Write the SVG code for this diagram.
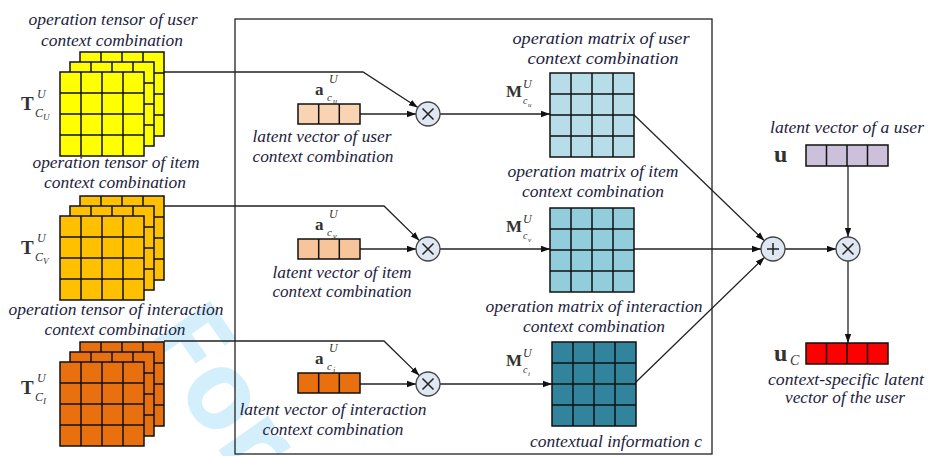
<svg xmlns="http://www.w3.org/2000/svg" xmlns:xlink="http://www.w3.org/1999/xlink" width="928" height="456" viewBox="0 0 928 456">
<style>
.lbl{font-family:"Liberation Serif",serif;font-style:italic;font-size:16px;fill:#1c1c3c;text-anchor:middle}
.math{font-family:"Liberation Serif",serif;fill:#333}
.b{font-weight:bold}
.it{font-style:italic}
.cell{stroke:#111;stroke-width:1.5}
.conn{fill:none;stroke:#222;stroke-width:1.3}
.op{fill:#dfe8f2;stroke:#444;stroke-width:1.3}
.opx{stroke:#222;stroke-width:1.5;fill:none}
</style>
<defs>
<marker id="ah" viewBox="0 0 10 10" refX="10" refY="5" markerWidth="9" markerHeight="9" markerUnits="userSpaceOnUse" orient="auto">
<path d="M0,1.5 L10,5 L0,8.5 z" fill="#111"/>
</marker>
<g id="grid">
<rect x="0" y="0" width="84" height="84" class="cell"/>
<path d="M21 0V84M42 0V84M63 0V84M0 21H84M0 42H84M0 63H84" class="cell" fill="none"/>
</g>
<g id="vec3">
<rect x="0" y="0" width="62" height="20" class="cell"/>
<path d="M20.7 0V20M41.3 0V20" class="cell" fill="none"/>
</g>
<g id="vec4">
<rect x="0" y="0" width="82" height="21" class="cell"/>
<path d="M20.5 0V21M41 0V21M61.5 0V21" class="cell" fill="none"/>
</g>
<g id="times">
<circle cx="0" cy="0" r="12" class="op"/>
<path d="M-5.5,-5.5L5.5,5.5M5.5,-5.5L-5.5,5.5" class="opx"/>
</g>
</defs>

<rect x="0" y="0" width="928" height="456" fill="#fff"/>
<!-- watermark -->
<text x="140" y="338" transform="rotate(55 140 338)" font-family="Open Sans,sans-serif" font-weight="bold" font-size="110" fill="#d4effc">For</text>

<rect id="frame" x="235" y="19" width="477" height="435" fill="none" stroke="#222" stroke-width="1.3"/>

<g id="connectors">
<path class="conn" d="M164,72 H363 L417.9,107.5" marker-end="url(#ah)"/>
<path class="conn" d="M164,206 H384 L419.4,240.6" marker-end="url(#ah)"/>
<path class="conn" d="M164,341 H384 L419.4,375.6" marker-end="url(#ah)"/>
<path class="conn" d="M360,114 H416" marker-end="url(#ah)"/>
<path class="conn" d="M360,249 H416" marker-end="url(#ah)"/>
<path class="conn" d="M360,384 H416" marker-end="url(#ah)"/>
<path class="conn" d="M440,114 H550" marker-end="url(#ah)"/>
<path class="conn" d="M440,249 H550" marker-end="url(#ah)"/>
<path class="conn" d="M440,384 H552" marker-end="url(#ah)"/>
<path class="conn" d="M633,114 L764.4,240.7" marker-end="url(#ah)"/>
<path class="conn" d="M633,249 H761" marker-end="url(#ah)"/>
<path class="conn" d="M635,383 L764.4,257.4" marker-end="url(#ah)"/>
<path class="conn" d="M785,249 H836" marker-end="url(#ah)"/>
<path class="conn" d="M848,166 V237" marker-end="url(#ah)"/>
<path class="conn" d="M848,261 V343" marker-end="url(#ah)"/>
</g>

<g id="tensor-user">
<use xlink:href="#grid" x="80" y="52" fill="#ffff00"/>
<use xlink:href="#grid" x="70" y="62" fill="#ffff00"/>
<use xlink:href="#grid" x="60" y="72" fill="#ffff00"/>
<text class="lbl" x="113" y="25" textLength="169" lengthAdjust="spacingAndGlyphs">operation tensor of user</text>
<text class="lbl" x="112" y="46" textLength="142" lengthAdjust="spacingAndGlyphs">context combination</text>
<text class="math b" x="21" y="110" font-size="19">T</text>
<text class="math it" x="37" y="98" font-size="12">U</text>
<text class="math it" x="35" y="117" font-size="12">C</text>
<text class="math it" x="43" y="120" font-size="9">U</text>
</g>

<g id="tensor-item">
<use xlink:href="#grid" x="80" y="196" fill="#ffc000"/>
<use xlink:href="#grid" x="70" y="206" fill="#ffc000"/>
<use xlink:href="#grid" x="60" y="216" fill="#ffc000"/>
<text class="lbl" x="116" y="168" textLength="167" lengthAdjust="spacingAndGlyphs">operation tensor of item</text>
<text class="lbl" x="115" y="188" textLength="142" lengthAdjust="spacingAndGlyphs">context combination</text>
<text class="math b" x="21" y="254" font-size="19">T</text>
<text class="math it" x="37" y="242" font-size="12">U</text>
<text class="math it" x="35" y="261" font-size="12">C</text>
<text class="math it" x="43" y="264" font-size="9">V</text>
</g>

<g id="tensor-interaction">
<use xlink:href="#grid" x="80" y="342" fill="#e8700f"/>
<use xlink:href="#grid" x="70" y="352" fill="#e8700f"/>
<use xlink:href="#grid" x="60" y="362" fill="#e8700f"/>
<text class="lbl" x="116" y="315" textLength="215" lengthAdjust="spacingAndGlyphs">operation tensor of interaction</text>
<text class="lbl" x="115" y="335" textLength="141" lengthAdjust="spacingAndGlyphs">context combination</text>
<text class="math b" x="21" y="394" font-size="19">T</text>
<text class="math it" x="37" y="382" font-size="12">U</text>
<text class="math it" x="35" y="401" font-size="12">C</text>
<text class="math it" x="43" y="404" font-size="9">I</text>
</g>

<g id="vector-user">
<use xlink:href="#vec3" x="298" y="104" fill="#fad4b2"/>
<text class="lbl" x="322" y="142" textLength="139" lengthAdjust="spacingAndGlyphs">latent vector of user</text>
<text class="lbl" x="323" y="162" textLength="141" lengthAdjust="spacingAndGlyphs">context combination</text>
<text class="math b" x="315" y="95" font-size="17">a</text>
<text class="math it" x="329" y="83" font-size="12">U</text>
<text class="math it" x="327" y="101" font-size="11">c</text>
<text class="math it" x="333" y="104" font-size="8">u</text>
</g>

<g id="vector-item">
<use xlink:href="#vec3" x="298" y="239" fill="#f8c59b"/>
<text class="lbl" x="342" y="278" textLength="139" lengthAdjust="spacingAndGlyphs">latent vector of item</text>
<text class="lbl" x="342" y="297" textLength="139" lengthAdjust="spacingAndGlyphs">context combination</text>
<text class="math b" x="315" y="230" font-size="17">a</text>
<text class="math it" x="329" y="218" font-size="12">U</text>
<text class="math it" x="327" y="236" font-size="11">c</text>
<text class="math it" x="333" y="239" font-size="8">v</text>
</g>

<g id="vector-interaction">
<use xlink:href="#vec3" x="298" y="373" fill="#e8700f"/>
<text class="lbl" x="333" y="415" textLength="187" lengthAdjust="spacingAndGlyphs">latent vector of interaction</text>
<text class="lbl" x="333" y="435" textLength="141" lengthAdjust="spacingAndGlyphs">context combination</text>
<text class="math b" x="315" y="364" font-size="17">a</text>
<text class="math it" x="329" y="352" font-size="12">U</text>
<text class="math it" x="327" y="370" font-size="11">c</text>
<text class="math it" x="333" y="373" font-size="8">i</text>
</g>

<g id="op-user"><use xlink:href="#times" x="428" y="114"/></g>
<g id="op-item"><use xlink:href="#times" x="428" y="249"/></g>
<g id="op-interaction"><use xlink:href="#times" x="428" y="384"/></g>

<g id="matrix-user">
<use xlink:href="#grid" x="550" y="73" fill="#b7dee8"/>
<text class="lbl" x="601" y="44" textLength="177" lengthAdjust="spacingAndGlyphs">operation matrix of user</text>
<text class="lbl" x="603" y="64" textLength="151" lengthAdjust="spacingAndGlyphs">context combination</text>
<text class="math b" x="506" y="97" font-size="17">M</text>
<text class="math it" x="523" y="88" font-size="12">U</text>
<text class="math it" x="523" y="104" font-size="10">c</text>
<text class="math it" x="528" y="107" font-size="7">u</text>
</g>

<g id="matrix-item">
<use xlink:href="#grid" x="550" y="208" fill="#92cddc"/>
<text class="lbl" x="593" y="177" textLength="171" lengthAdjust="spacingAndGlyphs">operation matrix of item</text>
<text class="lbl" x="593" y="197" textLength="142" lengthAdjust="spacingAndGlyphs">context combination</text>
<text class="math b" x="506" y="232" font-size="17">M</text>
<text class="math it" x="523" y="223" font-size="12">U</text>
<text class="math it" x="523" y="239" font-size="10">c</text>
<text class="math it" x="528" y="242" font-size="7">v</text>
</g>

<g id="matrix-interaction">
<use xlink:href="#grid" x="552" y="342" fill="#31849b"/>
<text class="lbl" x="594" y="312" textLength="217" lengthAdjust="spacingAndGlyphs">operation matrix of interaction</text>
<text class="lbl" x="594" y="332" textLength="142" lengthAdjust="spacingAndGlyphs">context combination</text>
<text class="math b" x="506" y="366" font-size="17">M</text>
<text class="math it" x="523" y="357" font-size="12">U</text>
<text class="math it" x="523" y="373" font-size="10">c</text>
<text class="math it" x="528" y="376" font-size="7">i</text>
</g>

<g id="context-info">
<text class="lbl" x="616" y="447" textLength="172" lengthAdjust="spacingAndGlyphs">contextual information c</text>
</g>

<g id="op-sum">
<circle cx="773" cy="249" r="12" class="op"/>
<path d="M773,243V255M767,249H779" class="opx"/>
</g>
<g id="op-final"><use xlink:href="#times" x="848" y="249"/></g>

<g id="user-vector">
<use xlink:href="#vec4" x="806" y="145" fill="#ccc0da"/>
<text class="lbl" x="847" y="133" textLength="154" lengthAdjust="spacingAndGlyphs">latent vector of a user</text>
<text class="math b" x="774" y="162" font-size="24">u</text>
</g>

<g id="context-user-vector">
<use xlink:href="#vec4" x="806" y="343" fill="#ff0000"/>
<text class="lbl" x="846" y="385" textLength="156" lengthAdjust="spacingAndGlyphs">context-specific latent</text>
<text class="lbl" x="845" y="403" textLength="120" lengthAdjust="spacingAndGlyphs">vector of the user</text>
<text class="math b" x="774" y="361" font-size="24">u</text>
<text class="math it" x="790" y="365" font-size="14">C</text>
</g>
</svg>
